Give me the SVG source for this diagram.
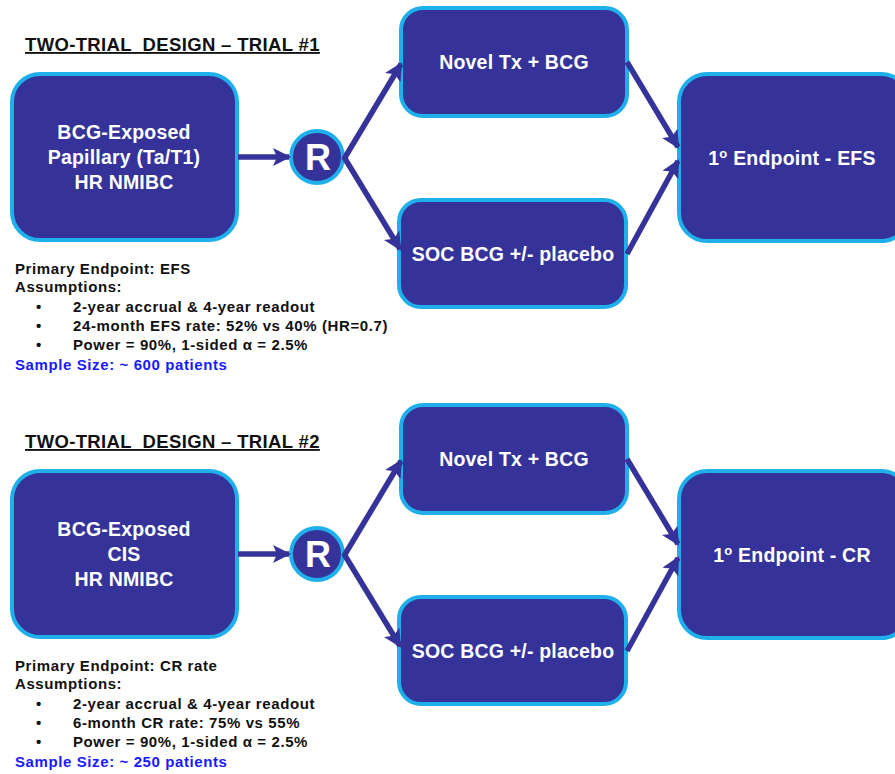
<svg xmlns="http://www.w3.org/2000/svg" width="895" height="774" viewBox="0 0 895 774">
<style>
.box{fill:#35339a;stroke:#1fb0ec;stroke-width:4}
.bt{font-family:"Liberation Sans",Arial,sans-serif;font-weight:bold;font-size:19.5px;letter-spacing:0.2px;fill:#fff;text-anchor:middle}
.sup{font-size:13px}
.rt{font-family:"Liberation Sans",Arial,sans-serif;font-weight:bold;font-size:36px;fill:#fff;text-anchor:middle}
.title{font-family:"Liberation Sans",Arial,sans-serif;font-weight:bold;font-size:18.5px;letter-spacing:0.35px;fill:#111;text-decoration:underline;white-space:pre}
.note{font-family:"Liberation Sans",Arial,sans-serif;font-weight:bold;font-size:15px;letter-spacing:0.6px;fill:#111}
.blue{fill:#1a1aff}
.con{stroke:#35339a;stroke-width:5.5;fill:none}
</style>
<defs>
<marker id="ah" markerUnits="userSpaceOnUse" markerWidth="18" markerHeight="18" viewBox="0 0 18 18" refX="16" refY="9" orient="auto">
<path d="M0,0 L18,9 L0,18 L4,9 Z" fill="#35339a"/>
</marker>
</defs>

<g id="trial1">
<text class="title" x="25" y="51">TWO-TRIAL  DESIGN – TRIAL #1</text>
<g id="t1-pop"><rect class="box" x="12" y="74" width="225" height="166" rx="28"/>
<text class="bt" x="124" y="139">BCG-Exposed</text>
<text class="bt" x="124" y="164">Papillary (Ta/T1)</text>
<text class="bt" x="124" y="189">HR NMIBC</text></g>
<g id="t1-r"><circle cx="317" cy="157" r="26" fill="#35339a" stroke="#1fb0ec" stroke-width="4"/>
<text class="rt" x="318" y="170">R</text></g>
<g id="t1-novel"><rect class="box" x="401" y="8" width="226" height="108" rx="22"/>
<text class="bt" x="514" y="69">Novel Tx + BCG</text></g>
<g id="t1-soc"><rect class="box" x="399" y="200" width="227" height="107" rx="22"/>
<text class="bt" x="513" y="261">SOC BCG +/- placebo</text></g>
<g id="t1-end"><rect class="box" x="679" y="74" width="230" height="167" rx="28"/>
<text class="bt" x="792" y="165">1<tspan class="sup" dy="-7">o</tspan><tspan dy="7"> Endpoint - EFS</tspan></text></g>
<g id="t1-notes">
<text class="note" x="15" y="274">Primary Endpoint: EFS</text>
<text class="note" x="15" y="292">Assumptions:</text>
<text class="note" x="36" y="312">•</text><text class="note" x="73" y="312">2-year accrual &amp; 4-year readout</text>
<text class="note" x="36" y="331">•</text><text class="note" x="73" y="331">24-month EFS rate: 52% vs 40% (HR=0.7)</text>
<text class="note" x="36" y="350">•</text><text class="note" x="73" y="350">Power = 90%, 1-sided α = 2.5%</text>
<text class="note blue" x="15" y="370">Sample Size: ~ 600 patients</text>
</g>
</g>

<g id="trial2">
<text class="title" x="25" y="448">TWO-TRIAL  DESIGN – TRIAL #2</text>
<g id="t2-pop"><rect class="box" x="12" y="471" width="225" height="166" rx="28"/>
<text class="bt" x="124" y="536">BCG-Exposed</text>
<text class="bt" x="124" y="561">CIS</text>
<text class="bt" x="124" y="586">HR NMIBC</text></g>
<g id="t2-r"><circle cx="317" cy="554" r="26" fill="#35339a" stroke="#1fb0ec" stroke-width="4"/>
<text class="rt" x="318" y="567">R</text></g>
<g id="t2-novel"><rect class="box" x="401" y="405" width="226" height="108" rx="22"/>
<text class="bt" x="514" y="466">Novel Tx + BCG</text></g>
<g id="t2-soc"><rect class="box" x="399" y="597" width="227" height="107" rx="22"/>
<text class="bt" x="513" y="658">SOC BCG +/- placebo</text></g>
<g id="t2-end"><rect class="box" x="679" y="471" width="230" height="167" rx="28"/>
<text class="bt" x="792" y="562">1<tspan class="sup" dy="-7">o</tspan><tspan dy="7"> Endpoint - CR</tspan></text></g>
<g id="t2-notes">
<text class="note" x="15" y="671">Primary Endpoint: CR rate</text>
<text class="note" x="15" y="689">Assumptions:</text>
<text class="note" x="36" y="709">•</text><text class="note" x="73" y="709">2-year accrual &amp; 4-year readout</text>
<text class="note" x="36" y="728">•</text><text class="note" x="73" y="728">6-month CR rate: 75% vs 55%</text>
<text class="note" x="36" y="747">•</text><text class="note" x="73" y="747">Power = 90%, 1-sided α = 2.5%</text>
<text class="note blue" x="15" y="767">Sample Size: ~ 250 patients</text>
</g>
</g>

<g id="connectors">
<line class="con" x1="238" y1="157" x2="289" y2="157" marker-end="url(#ah)"/>
<line class="con" x1="344" y1="159" x2="401" y2="64" marker-end="url(#ah)"/>
<line class="con" x1="344" y1="157" x2="400" y2="249" marker-end="url(#ah)"/>
<line class="con" x1="627" y1="62" x2="678" y2="147" marker-end="url(#ah)"/>
<line class="con" x1="627" y1="254" x2="678" y2="161" marker-end="url(#ah)"/>
<line class="con" x1="238" y1="554" x2="289" y2="554" marker-end="url(#ah)"/>
<line class="con" x1="344" y1="556" x2="401" y2="461" marker-end="url(#ah)"/>
<line class="con" x1="344" y1="554" x2="400" y2="646" marker-end="url(#ah)"/>
<line class="con" x1="627" y1="459" x2="678" y2="544" marker-end="url(#ah)"/>
<line class="con" x1="627" y1="651" x2="678" y2="558" marker-end="url(#ah)"/>
</g>
</svg>
